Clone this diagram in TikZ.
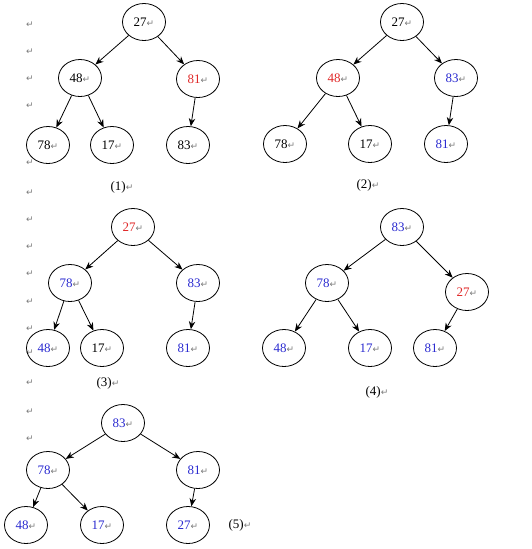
\documentclass[tikz,border=0pt]{standalone}
\usepackage{fontspec}
\setmainfont{Liberation Serif}
\newfontfamily\markfont{DejaVu Sans}
\usetikzlibrary{arrows.meta, shapes.geometric}
\definecolor{redc}{HTML}{E02828}
\definecolor{bluec}{HTML}{2A2AD0}
\definecolor{markc}{HTML}{7A7A7A}
\newcommand{\pmark}{{\markfont\fontsize{9}{10}\selectfont\textcolor{markc}{↵}}}

\begin{document}
\begin{tikzpicture}[x=1pt, y=-1pt, font=\fontsize{13}{15}\selectfont,
    nd/.style={draw, ellipse, minimum width=43pt, minimum height=37pt, inner sep=0pt, line width=0.8pt},
    arr/.style={-{Stealth[length=8pt, width=6.5pt]}, line width=0.8pt},
    captxt/.style={inner sep=0pt}]
  \useasboundingbox (0,0) rectangle (531,549);
  % paragraph marks down the left margin
  \foreach \y in {25,52,79,106,163,193,220,247,274,302,329,353,383,412,439}
    \node[inner sep=0pt] at (30,\y) {\pmark};
  % (1)
  \node[nd] (t1a) at (144,22) {27\pmark};
  \node[nd] (t1b) at (80,78)  {48\pmark};
  \node[nd] (t1c) at (198,79) {\textcolor{redc}{81}\pmark};
  \node[nd] (t1d) at (48,145) {78\pmark};
  \node[nd] (t1e) at (112,145) {17\pmark};
  \node[nd] (t1f) at (188,145) {83\pmark};
  \node[captxt] (c1) at (122,187) {(1)\pmark};
  % (2)
  \node[nd] (t2a) at (402,22)  {27\pmark};
  \node[nd] (t2b) at (338,78)  {\textcolor{redc}{48}\pmark};
  \node[nd] (t2c) at (456,78)  {\textcolor{bluec}{83}\pmark};
  \node[nd] (t2d) at (285,144) {78\pmark};
  \node[nd] (t2e) at (370,144) {17\pmark};
  \node[nd] (t2f) at (446,144) {\textcolor{bluec}{81}\pmark};
  \node[captxt] (c2) at (368,185) {(2)\pmark};
  % (3)
  \node[nd] (t3a) at (133,227) {\textcolor{redc}{27}\pmark};
  \node[nd] (t3b) at (70,283)  {\textcolor{bluec}{78}\pmark};
  \node[nd] (t3c) at (198,283) {\textcolor{bluec}{83}\pmark};
  \node[nd] (t3d) at (48,348)  {\textcolor{bluec}{48}\pmark};
  \node[nd] (t3e) at (102,348) {17\pmark};
  \node[nd] (t3f) at (188,348) {\textcolor{bluec}{81}\pmark};
  \node[captxt] (c3) at (108,383) {(3)\pmark};
  % (4)
  \node[nd] (t4a) at (402,227) {\textcolor{bluec}{83}\pmark};
  \node[nd] (t4b) at (327,283) {\textcolor{bluec}{78}\pmark};
  \node[nd] (t4c) at (467,292) {\textcolor{redc}{27}\pmark};
  \node[nd] (t4d) at (284,348) {\textcolor{bluec}{48}\pmark};
  \node[nd] (t4e) at (370,348) {\textcolor{bluec}{17}\pmark};
  \node[nd] (t4f) at (435,348) {\textcolor{bluec}{81}\pmark};
  \node[captxt] (c4) at (377,392) {(4)\pmark};
  % (5)
  \node[nd] (t5a) at (123,423) {\textcolor{bluec}{83}\pmark};
  \node[nd] (t5b) at (48,470)  {\textcolor{bluec}{78}\pmark};
  \node[nd] (t5c) at (198,470) {\textcolor{bluec}{81}\pmark};
  \node[nd] (t5d) at (26,525)  {\textcolor{bluec}{48}\pmark};
  \node[nd] (t5e) at (102,525) {\textcolor{bluec}{17}\pmark};
  \node[nd] (t5f) at (188,525) {\textcolor{bluec}{27}\pmark};
  \node[captxt] (c5) at (240,525) {(5)\pmark};
  % same edges in every tree
  \foreach \t in {1,...,5} {
    \draw[arr] (t\t a) -- (t\t b);
    \draw[arr] (t\t a) -- (t\t c);
    \draw[arr] (t\t b) -- (t\t d);
    \draw[arr] (t\t b) -- (t\t e);
    \draw[arr] (t\t c) -- (t\t f);
  }
\end{tikzpicture}
\end{document}
